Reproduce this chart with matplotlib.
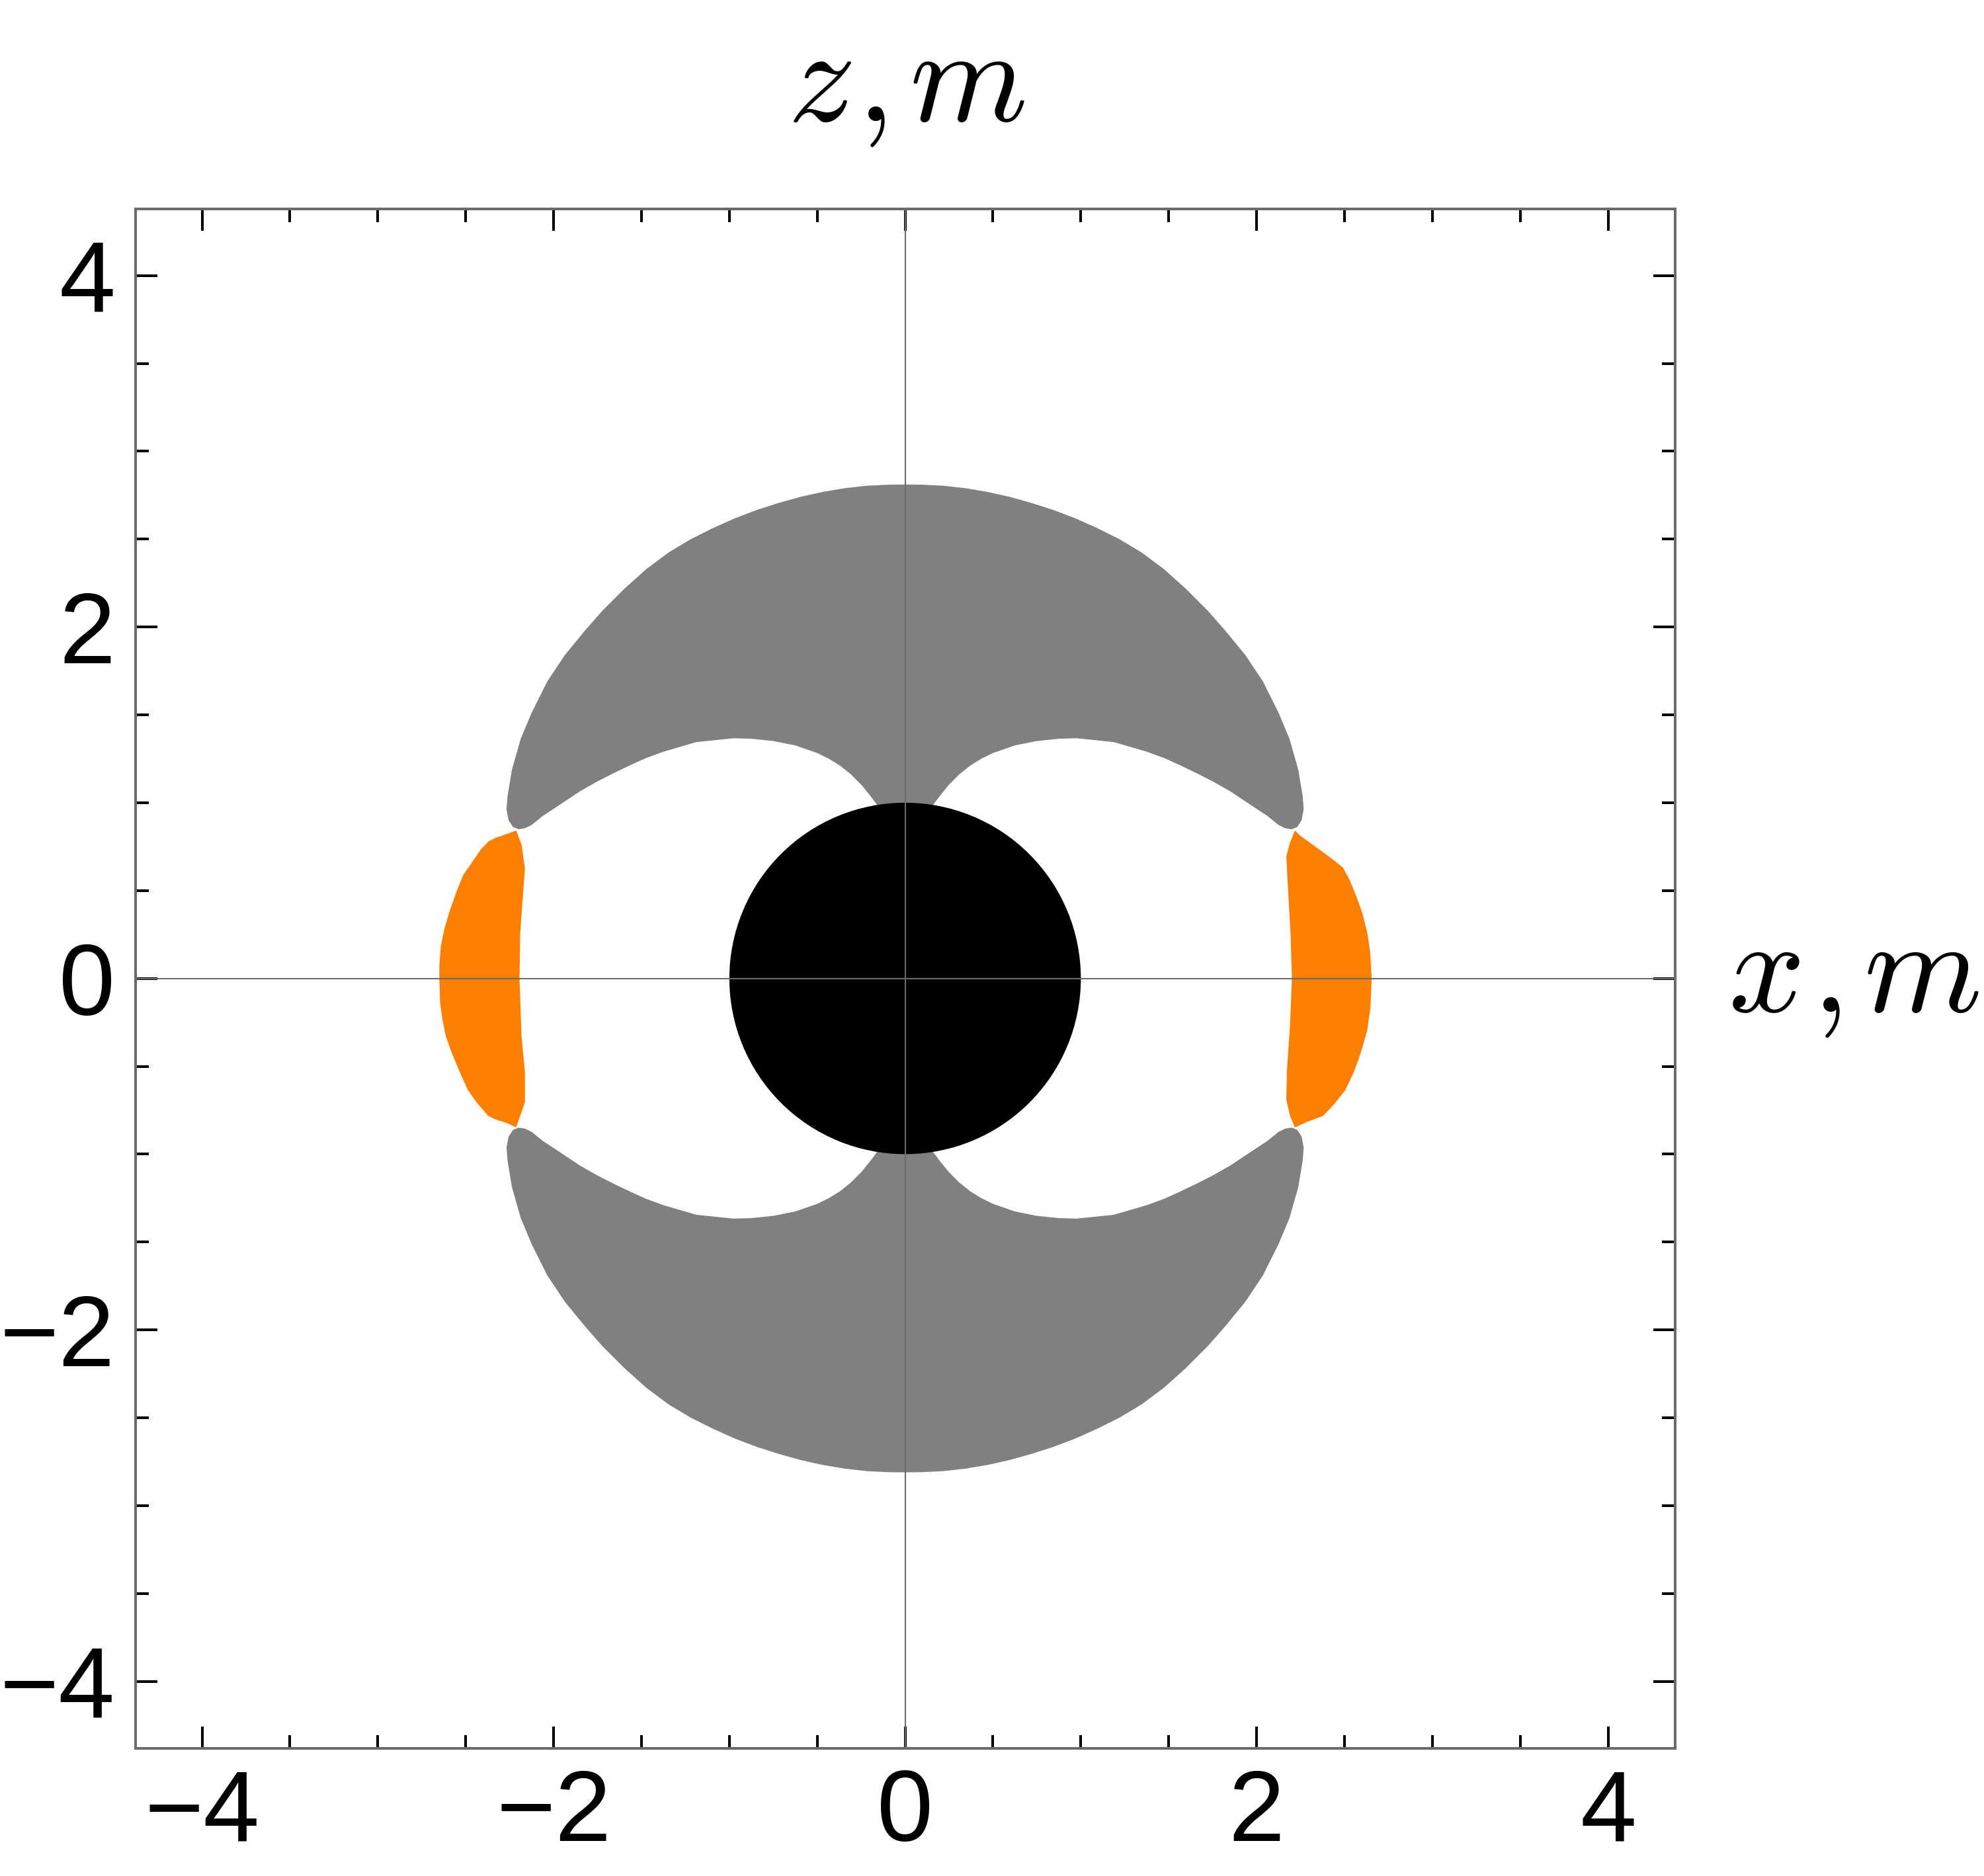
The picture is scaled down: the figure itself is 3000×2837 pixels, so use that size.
import numpy as np
import matplotlib
matplotlib.use('Agg')
import matplotlib.pyplot as plt
from matplotlib.patches import Polygon, Circle
from matplotlib.ticker import MultipleLocator

plt.rcParams['font.family'] = ['Liberation Sans', 'DejaVu Sans']
plt.rcParams['mathtext.fontset'] = 'cm'

# upper gray lobe, right half (mirrored for the rest)
outer_x = [0.0, 0.092, 0.217, 0.342, 0.468, 0.594, 0.719, 0.844, 0.970, 1.095, 1.221, 1.346, 1.472, 1.597,
           1.723, 1.823, 1.936, 2.036, 2.124, 2.187, 2.237, 2.262, 2.268, 2.256, 2.231, 2.199]
outer_y = [2.811, 2.810, 2.804, 2.790, 2.769, 2.741, 2.706, 2.666, 2.618, 2.562, 2.499, 2.424, 2.330, 2.218,
           2.092, 1.978, 1.840, 1.690, 1.514, 1.364, 1.188, 1.038, 0.963, 0.900, 0.862, 0.849]
inner_x = [2.199, 2.162, 2.124, 2.061, 2.000, 1.940, 1.850, 1.753, 1.665, 1.565, 1.477, 1.376, 1.188, 0.975,
           0.874, 0.749, 0.624, 0.498, 0.435, 0.373, 0.310, 0.247, 0.197, 0.159, 0.0]
inner_y = [0.849, 0.855, 0.874, 0.925, 0.965, 1.005, 1.065, 1.120, 1.165, 1.213, 1.253, 1.290, 1.345, 1.367,
           1.364, 1.351, 1.326, 1.282, 1.251, 1.213, 1.163, 1.100, 1.038, 0.987, 0.95]

# orange patches
right_x = [2.218, 2.247, 2.303, 2.366, 2.429, 2.492, 2.529, 2.567, 2.604, 2.630, 2.646, 2.655, 2.648, 2.630,
           2.592, 2.554, 2.504, 2.441, 2.379, 2.291, 2.218,
           2.190, 2.169, 2.172, 2.190, 2.201, 2.193, 2.178, 2.169, 2.190]
right_y = [0.842, 0.813, 0.773, 0.727, 0.681, 0.630, 0.561, 0.469, 0.364, 0.258, 0.153, 0.000, -0.162, -0.294,
           -0.426, -0.532, -0.637, -0.716, -0.782, -0.815, -0.848,
           -0.782, -0.690, -0.532, -0.268, 0.000, 0.258, 0.522, 0.694, 0.773]
left_x = [-2.213, -2.263, -2.326, -2.370, -2.414, -2.464, -2.514, -2.552, -2.589, -2.621, -2.642, -2.650, -2.650,
          -2.646, -2.633, -2.615, -2.583, -2.539, -2.489, -2.439, -2.370, -2.326, -2.263, -2.213,
          -2.194, -2.163, -2.163, -2.182, -2.194, -2.190, -2.163, -2.182]
left_y = [0.842, 0.823, 0.802, 0.780, 0.734, 0.661, 0.589, 0.496, 0.391, 0.285, 0.180, 0.074, 0.000,
          -0.138, -0.230, -0.323, -0.415, -0.521, -0.633, -0.705, -0.784, -0.804, -0.824, -0.848,
          -0.793, -0.705, -0.532, -0.336, 0.000, 0.258, 0.628, 0.760]

core_r = 1.0
lim = 4.38

fig = plt.figure(figsize=(30, 28.37), dpi=100)
ax = fig.add_axes([0.0682, 0.0682, 0.7760, 0.8205])

half_x = np.array(outer_x + inner_x)
half_y = np.array(outer_y + inner_y)
lobe_x = np.concatenate([half_x, -half_x[::-1]])
lobe_y = np.concatenate([half_y, half_y[::-1]])
for s in (1, -1):
    ax.add_patch(Polygon(np.column_stack([lobe_x, s * lobe_y]), closed=True,
                         fc='#808080', ec='none', zorder=1))

ax.add_patch(Polygon(np.column_stack([right_x, right_y]), closed=True, fc='#ff8000', ec='none', zorder=1))
ax.add_patch(Polygon(np.column_stack([left_x, left_y]), closed=True, fc='#ff8000', ec='none', zorder=1))
ax.add_patch(Circle((0, 0), core_r, fc='black', ec='none', zorder=2))

ax.axhline(0, color='#6b6b6b', lw=1.5, zorder=3)
ax.axvline(0, color='#6b6b6b', lw=1.5, zorder=3)

ax.set_xlim(-lim, lim)
ax.set_ylim(-lim, lim)
ax.xaxis.set_major_locator(MultipleLocator(2))
ax.yaxis.set_major_locator(MultipleLocator(2))
ax.xaxis.set_minor_locator(MultipleLocator(0.5))
ax.yaxis.set_minor_locator(MultipleLocator(0.5))
ax.tick_params(which='both', direction='in', top=True, right=True, color='black', width=2.9)
ax.tick_params(which='major', length=24, labelsize=110, pad=22)
ax.tick_params(which='minor', length=14.4)
for sp in ax.spines.values():
    sp.set_color('#6b6b6b')
    sp.set_linewidth(2.9)

fig.text(0.4567, 1 - 183 / 2837, r'$z\hspace{0.06},\hspace{-0.07}m$', fontsize=146, ha='center', va='baseline')
fig.text(2613 / 3000, 1 - 1530 / 2837, r'$x\hspace{0.06},\hspace{-0.07}m$', fontsize=146, ha='left', va='baseline')

fig.savefig('out.png', dpi=100)
